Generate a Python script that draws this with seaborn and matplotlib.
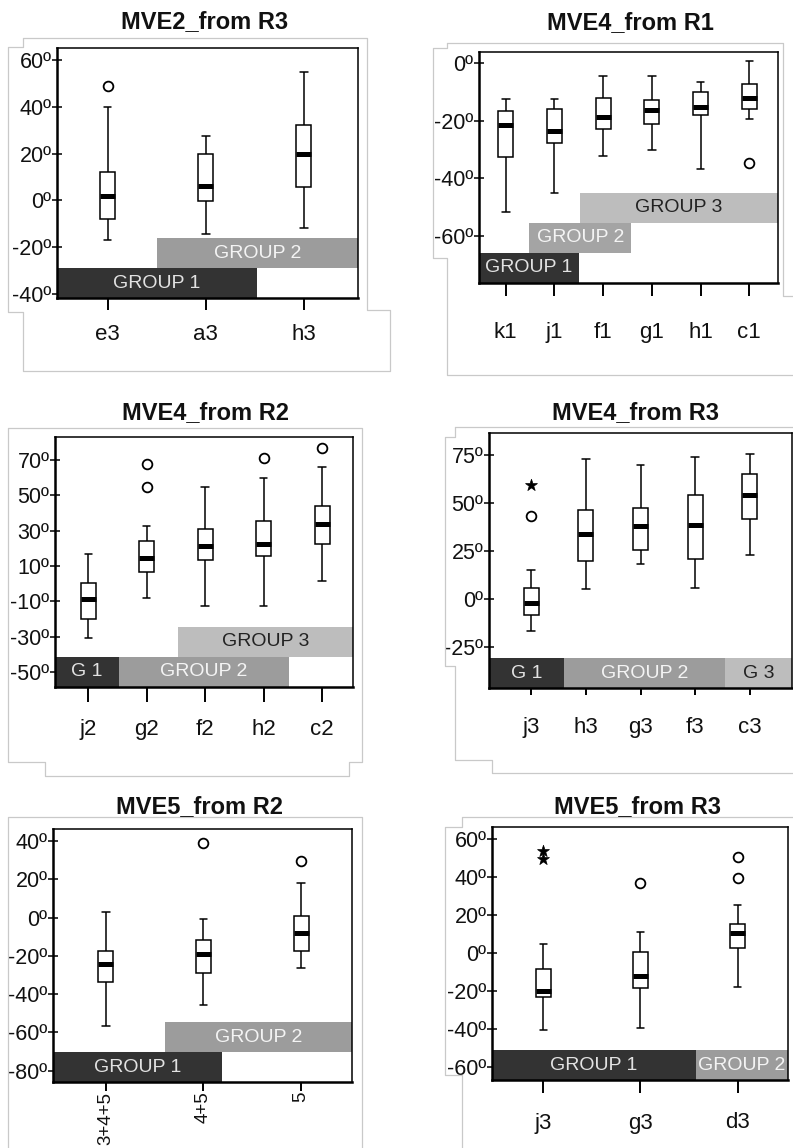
import pandas as pd
import matplotlib
matplotlib.use("Agg")
import matplotlib.pyplot as plt
import matplotlib.transforms as mtransforms
from matplotlib.lines import Line2D
import seaborn as sns

# ---- data: [low whisker, Q1, median, Q3, high whisker] ----
mve2_r3_cats = ["e3", "a3", "h3"]
mve2_r3_box = [[-17, -8, 2, 12, 40], [-14.5, -0.3, 6, 20, 27.6], [-11.6, 5.6, 20, 32, 55]]
mve2_r3_out = [("e3", 49, "o")]

mve4_r1_cats = ["k1", "j1", "f1", "g1", "h1", "c1"]
mve4_r1_box = [[-51.7, -32.5, -21.6, -16.6, -12.6], [-45, -27.9, -23.5, -16, -12.6],
               [-32.2, -22.8, -18.6, -12.1, -4.4], [-30.3, -21.3, -16.2, -12.9, -4.4],
               [-36.7, -18.2, -15.3, -10.2, -6.7], [-19.5, -16, -12.2, -7.4, 0.6]]
mve4_r1_out = [("c1", -34.8, "o")]

mve4_r2_cats = ["j2", "g2", "f2", "h2", "c2"]
mve4_r2_box = [[-30.5, -19.9, -8.6, 0.6, 16.8], [-8.1, 6.6, 14.7, 23.9, 32.8],
               [-12.4, 13.6, 21.3, 30.9, 54.6], [-12.4, 15.8, 22.6, 35.6, 59.9],
               [1.3, 22.6, 33.9, 43.9, 66.1]]
mve4_r2_out = [("g2", 67.4, "o"), ("g2", 54.8, "o"), ("h2", 71.2, "o"), ("c2", 76.9, "o")]

mve4_r3_cats = ["j3", "h3", "g3", "f3", "c3"]
mve4_r3_box = [[-17, -8.5, -2.3, 5.6, 15], [5, 19.8, 33.7, 46.3, 73],
               [18.3, 25.2, 37.7, 47.3, 69.9], [5.6, 20.5, 38.3, 54.1, 73.7],
               [23, 41.7, 53.9, 65.2, 75.5]]
mve4_r3_out = [("j3", 43.3, "o"), ("j3", 59.1, "*")]

mve5_r2_cats = ["3+4+5", "4+5", "5"]
mve5_r2_box = [[-56.5, -33.7, -24.5, -17.2, 2.8], [-45.9, -28.7, -18.8, -11.7, -0.7],
               [-26.4, -17.2, -7.8, 0.9, 17.9]]
mve5_r2_out = [("4+5", 39.1, "o"), ("5", 29.7, "o")]

mve5_r3_cats = ["j3", "g3", "d3"]
mve5_r3_box = [[-40.7, -23.5, -20, -8.6, 4.6], [-39.8, -18.4, -12.3, 0.2, 10.9],
               [-17.9, 2.3, 10.2, 15.3, 25.4]]
mve5_r3_out = [("j3", 53.5, "*"), ("j3", 49.3, "*"), ("g3", 37, "o"),
               ("d3", 50.5, "o"), ("d3", 39.5, "o")]

W, H = 793, 1148
DARK, MID, LIGHT = "#333333", "#9c9c9c", "#bdbdbd"
TXT = {DARK: "#e2e2e2", MID: "#f4f4f4", LIGHT: "#222222"}

sns.set_theme(style="white")
plt.rcParams["font.family"] = ["Liberation Sans", "DejaVu Sans"]

panels = [
    dict(title="MVE2_from R3", cats=mve2_r3_cats, box=mve2_r3_box, out=mve2_r3_out,
         ax=(57, 358, 48, 298), title_xy=(205, 22), xlim=(-0.515, 2.55), ylim=(-41.7, 65.1),
         yticks=[-40, -20, 0, 20, 40, 60], tick_len=8.6, pad=10, rot=0, xsize=16,
         groups=[("GROUP 1", -0.515, 1.52, 0, DARK), ("GROUP 2", 0.5, 2.55, 1, MID)],
         frame=[[(23, 38), (367, 38), (367, 310), (390, 310), (390, 371), (23, 371),
                 (23, 312), (8, 312), (8, 47), (23, 47), (23, 38)]]),
    dict(title="MVE4_from R1", cats=mve4_r1_cats, box=mve4_r1_box, out=mve4_r1_out,
         ax=(479, 778, 52, 283), title_xy=(630, 23), xlim=(-0.55, 5.59), ylim=(-76.4, 3.8),
         yticks=[-60, -40, -20, 0], tick_len=9.4, pad=19, rot=0, xsize=16,
         groups=[("GROUP 1", -0.55, 1.5, 0, DARK), ("GROUP 2", 0.48, 2.58, 1, "#a4a4a4"),
                 ("GROUP 3", 1.53, 5.59, 2, LIGHT)],
         frame=[[(447, 43), (783, 43), (783, 296), (793, 296)],
                [(447, 43), (447, 48), (433, 48), (433, 258), (447, 258), (447, 375), (793, 375)]]),
    dict(title="MVE4_from R2", cats=mve4_r2_cats, box=mve4_r2_box, out=mve4_r2_out,
         ax=(55, 353, 437, 687), title_xy=(205, 413), xlim=(-0.57, 4.53), ylim=(-58.4, 82.9),
         yticks=[-50, -30, -10, 10, 30, 50, 70], tick_len=10.8, pad=12.5, rot=0, xsize=16,
         groups=[("G 1", -0.57, 0.53, 0, DARK), ("GROUP 2", 0.53, 3.43, 0, MID),
                 ("GROUP 3", 1.53, 4.53, 1, LIGHT)],
         frame=[[(8, 428), (362, 428), (362, 762), (349, 762), (349, 776), (45, 776),
                 (45, 762), (8, 762), (8, 428)]]),
    dict(title="MVE4_from R3", cats=mve4_r3_cats, box=mve4_r3_box, out=mve4_r3_out,
         ax=(489, 792, 433, 688), title_xy=(635, 413), xlim=(-0.77, 4.77), ylim=(-46.6, 86.4),
         yticks=[-25, 0, 25, 50, 75], tick_len=5, pad=16, rot=0, xsize=16,
         groups=[("G 1", -0.77, 0.61, 0, DARK), ("GROUP 2", 0.61, 3.55, 0, MID),
                 ("G 3", 3.55, 4.77, 0, LIGHT)],
         frame=[[(455, 427), (793, 427)],
                [(455, 427), (455, 437), (445, 437), (445, 666), (455, 666), (455, 760),
                 (492, 760), (492, 773), (793, 773)]]),
    dict(title="MVE5_from R2", cats=mve5_r2_cats, box=mve5_r2_box, out=mve5_r2_out,
         ax=(53, 352, 829, 1082), title_xy=(200, 807), xlim=(-0.54, 2.52), ylim=(-85.9, 46.3),
         yticks=[-80, -60, -40, -20, 0, 20, 40], tick_len=6.5, pad=0.5, rot=90, xsize=13.5,
         groups=[("GROUP 1", -0.54, 1.19, 0, DARK), ("GROUP 2", 0.61, 2.52, 1, MID)],
         frame=[[(8, 1148), (8, 817), (362, 817), (362, 1148)]]),
    dict(title="MVE5_from R3", cats=mve5_r3_cats, box=mve5_r3_box, out=mve5_r3_out,
         ax=(492, 788, 827, 1080), title_xy=(638, 807), xlim=(-0.53, 2.52), ylim=(-67, 66.3),
         yticks=[-60, -40, -20, 0, 20, 40, 60], tick_len=9.4, pad=14, rot=0, xsize=16,
         groups=[("GROUP 1", -0.53, 1.57, 0, DARK), ("GROUP 2", 1.57, 2.52, 0, MID)],
         frame=[[(793, 817), (462, 817), (462, 827), (445, 827), (445, 1075), (462, 1075),
                 (462, 1148)]]),
]

fig = plt.figure(figsize=(W / 100, H / 100), dpi=100)

for p in panels:
    # light outer chart frame
    for pts in p["frame"]:
        xs = [x / W for x, _ in pts]
        ys = [1 - y / H for _, y in pts]
        fig.add_artist(Line2D(xs, ys, transform=fig.transFigure, color="#c9c9c9", lw=0.9))

    l, r, t, b = p["ax"]
    ax = fig.add_axes([l / W, 1 - b / H, (r - l) / W, (b - t) / H])
    cats = p["cats"]
    df = pd.DataFrame({
        "cat": [c for c, vals in zip(cats, p["box"]) for _ in vals],
        "value": [v for vals in p["box"] for v in vals],
    })
    step_px = (r - l) / (p["xlim"][1] - p["xlim"][0])
    sns.boxplot(data=df, x="cat", y="value", order=cats, whis=(0, 100), width=15 / step_px,
                color="white", linecolor="black", linewidth=1.1, showfliers=False,
                medianprops=dict(linewidth=3.6, color="black", solid_capstyle="butt"), ax=ax)

    out = pd.DataFrame(p["out"], columns=["cat", "value", "marker"])
    circ = out[out["marker"] == "o"]
    star = out[out["marker"] == "*"]
    if len(circ):
        sns.stripplot(data=circ, x="cat", y="value", order=cats, jitter=False, marker="o",
                      color="white", edgecolor="black", linewidth=1.3, size=7, ax=ax, zorder=4)
    if len(star):
        sns.stripplot(data=star, x="cat", y="value", order=cats, jitter=False, marker="*",
                      color="black", edgecolor="black", linewidth=0.5, size=9, ax=ax, zorder=4)

    ax.set_xlim(*p["xlim"])
    ax.set_ylim(*p["ylim"])
    ax.set_xlabel("")
    ax.set_ylabel("")
    ax.set_yticks(p["yticks"])
    ax.set_yticklabels([f"{v}º" for v in p["yticks"]])
    ax.set_xticks(range(len(cats)))
    ax.set_xticklabels(cats)
    ax.tick_params(axis="y", direction="inout", length=7, width=1.1, color="black",
                   labelsize=15.5, labelcolor="#111111", pad=0.5, left=True)
    ax.tick_params(axis="x", direction="out", length=p["tick_len"], width=1.4, color="black",
                   labelsize=p["xsize"], labelcolor="#111111", pad=p["pad"], bottom=True,
                   labelrotation=p["rot"])

    for side, sp in ax.spines.items():
        sp.set_color("black")
        sp.set_linewidth(1.8 if side in ("left", "bottom") else 1.1)
        sp.set_zorder(5)

    # group bands along the bottom of the plot
    row_h = 30 / (b - t)
    blend = mtransforms.blended_transform_factory(ax.transData, ax.transAxes)
    for label, x0, x1, row, col in p["groups"]:
        ax.add_patch(plt.Rectangle((x0, row * row_h), x1 - x0, row_h, transform=blend,
                                   facecolor=col, edgecolor="none", zorder=1, clip_on=True))
        ax.text((x0 + x1) / 2, row * row_h + row_h / 2, label, transform=blend,
                ha="center", va="center", fontsize=14, color=TXT.get(col, "#f4f4f4"),
                zorder=2, clip_on=True)

    fig.text(p["title_xy"][0] / W, 1 - p["title_xy"][1] / H, p["title"], ha="center",
             va="center", fontsize=17, fontweight="bold", color="#111111")

fig.savefig("out.png", dpi=100)
